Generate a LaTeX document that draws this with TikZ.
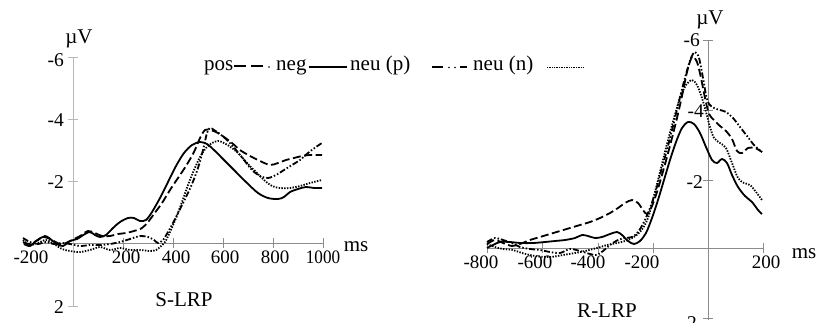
\documentclass[tikz,border=0pt]{standalone}
\usepackage{fontspec}
\setmainfont{Liberation Serif}
\begin{document}
\begin{tikzpicture}[x=1pt,y=-1pt,
  axis/.style={draw=black!45, line width=1pt},
  yaxisL/.style={draw=black!28, line width=1pt},
  curve/.style={line width=1.8pt, smooth, tension=0.5, line join=round},
  posline/.style={curve, dash pattern=on 8pt off 3.5pt},
  negline/.style={curve},
  neupline/.style={curve, dash pattern=on 6pt off 2pt on 1.5pt off 2pt on 1.5pt off 2pt},
  neunline/.style={curve, dash pattern=on 1.4pt off 1.4pt},
  lbl/.style={font=\fontsize{21}{24}\selectfont, inner sep=0pt},
  num/.style={font=\fontsize{19}{22}\selectfont, inner sep=0pt},
  ynum/.style={font=\fontsize{19.5}{22}\selectfont, inner sep=0pt, anchor=east},
]
\useasboundingbox (0,0) rectangle (817,322);

% ================= LEFT PANEL (S-LRP) =================
\coordinate (LyT) at (73,57);
\coordinate (LyB) at (73,306);
\coordinate (LxL) at (23,243);
\coordinate (LxR) at (323,243);
\draw[yaxisL] (LyT) -- (LyB);
\draw[axis] (LxL) -- (LxR);
\foreach \y in {57,119,181,306} \draw[yaxisL] (68,\y) -- (78,\y);
\foreach \x in {123,173,223,273,323} \draw[axis] (\x,238) -- (\x,248);
\node[ynum] (Ln6) at (64,60) {-6};
\node[ynum] (Ln4) at (64,120) {-4};
\node[ynum] (Ln2) at (64,182) {-2};
\node[ynum] (Lp2) at (64,307) {2};
\node[num,anchor=north] (Lxm200) at (31,251) {-200};
\node[num,anchor=north] (Lx200) at (126,251) {200};
\node[num,anchor=north] (Lx400) at (176,251) {400};
\node[num,anchor=north] (Lx600) at (225,251) {600};
\node[num,anchor=north] (Lx800) at (275,251) {800};
\node[num,anchor=north,xscale=0.9] (Lx1000) at (323,251) {1000};
\node[lbl] (LuV) at (79,39) {µV};
\node[lbl] (Lms) at (356,247) {ms};
\node[lbl] (Ltitle) at (184,300) {S-LRP};

% curves
\draw[negline] plot coordinates {(24,244) (30,246) (36,241) (43,237) (50,239) (57,244) (63,246) (70,241) (77,239) (85,234) (90,232) (95,235) (100,237) (106,235) (113,228) (120,222) (128,218) (134,218) (140,221) (146,220) (152,212) (160,198) (168,182) (176,166) (184,153) (192,145) (200,142) (207,144) (214,150) (224,160) (234,170) (246,182) (258,193) (268,198) (278,199) (284,197) (290,192) (298,189) (306,187) (314,188) (322,188)};
\draw[posline] plot coordinates {(23,242) (30,244) (38,240) (45,236) (52,240) (60,244) (66,243) (72,240) (80,236) (88,231) (95,233) (102,236) (110,236) (118,234) (126,233) (134,231) (142,228) (148,222) (154,214) (162,203) (170,190) (178,178) (186,166) (194,152) (200,138) (205,130) (210,130) (216,132) (224,137) (232,143) (240,150) (250,156) (260,161) (270,165) (278,163) (286,160) (294,158) (302,156) (310,155) (322,155)};
\draw[neupline] plot coordinates {(23,238) (30,242) (38,244) (46,242) (54,244) (62,243) (70,244) (80,246) (90,245) (100,245) (110,244) (120,242) (130,239) (140,236) (148,237) (154,240) (158,243) (163,240) (168,232) (174,221) (180,209) (186,197) (192,184) (198,168) (203,150) (207,133) (210,128) (214,130) (220,134) (228,141) (236,150) (244,160) (252,170) (260,176) (268,178) (276,175) (284,170) (292,165) (300,160) (308,153) (316,147) (322,143)};
\draw[neunline] plot coordinates {(23,240) (30,245) (38,243) (46,240) (54,244) (62,249) (70,251) (80,252) (90,250) (100,247) (110,250) (120,248) (130,250) (140,250) (150,251) (156,250) (160,247) (165,242) (170,232) (176,218) (182,202) (188,185) (194,170) (200,157) (206,148) (212,143) (218,141) (224,143) (232,148) (240,155) (248,164) (256,172) (264,180) (272,186) (280,188) (290,188) (300,186) (310,183) (322,180)};

% ================= RIGHT PANEL (R-LRP) =================
\coordinate (RyT) at (708,40);
\coordinate (RyB) at (708,320);
\coordinate (RxL) at (487,248);
\coordinate (RxR) at (763,248);
\draw[axis] (RyT) -- (RyB);
\draw[axis] (RxL) -- (RxR);
\foreach \y in {40,110,180,318} \draw[axis] (703,\y) -- (713,\y);
\foreach \x in {487,542,598,653,763} \draw[axis] (\x,243) -- (\x,253);
\node[ynum] (Rn6) at (700,40) {-6};
\node[ynum] (Rn4) at (704,111) {-4};
\node[ynum] (Rn2) at (703,182) {-2};
\node[ynum] (Rp2) at (697,323) {2};
\node[num,anchor=north] (Rxm800) at (481,256) {-800};
\node[num,anchor=north] (Rxm600) at (535,256) {-600};
\node[num,anchor=north] (Rxm400) at (588,256) {-400};
\node[num,anchor=north] (Rxm200) at (642,256) {-200};
\node[num,anchor=north] (Rx200) at (766,256) {200};
\node[lbl] (RuV) at (710,20) {µV};
\node[lbl] (Rms) at (804,254) {ms};
\node[lbl] (Rtitle) at (607,311) {R-LRP};

\draw[negline] plot coordinates {(487,248) (493,245) (500,242) (510,242) (520,243) (533,243) (545,242) (555,241) (565,240) (575,238) (582,235) (588,236) (595,238) (602,237) (610,234) (617,232) (622,235) (628,241) (634,244) (640,241) (646,233) (652,218) (658,200) (664,180) (670,160) (676,142) (682,128) (688,122) (694,124) (700,133) (706,147) (712,160) (717,163) (722,159) (727,163) (732,175) (738,187) (745,196) (752,202) (758,210) (762,214)};
\draw[posline] plot coordinates {(487,244) (495,240) (503,243) (512,246) (520,244) (530,240) (540,237) (550,234) (560,231) (570,228) (580,225) (590,222) (600,218) (610,213) (618,208) (625,203) (632,200) (638,203) (643,210) (647,214) (652,206) (657,192) (662,175) (667,157) (672,138) (677,118) (682,96) (687,72) (692,57) (697,62) (701,78) (705,98) (709,114) (714,120) (720,126) (726,131) (732,139) (737,151) (742,153) (748,148) (755,148) (762,152)};
\draw[neupline] plot coordinates {(487,242) (495,238) (503,240) (512,243) (520,247) (530,249) (540,250) (550,252) (560,253) (570,249) (580,251) (590,254) (597,255) (603,251) (610,245) (618,240) (625,238) (632,237) (638,232) (644,222) (650,208) (656,190) (662,168) (668,146) (674,122) (680,97) (686,74) (691,58) (695,52) (699,58) (703,78) (706,95) (709,104) (714,108) (720,110) (726,112) (733,118) (740,127) (747,136) (754,145) (762,152)};
\draw[neunline] plot coordinates {(487,244) (495,247) (503,249) (513,250) (522,253) (535,256) (550,257) (563,255) (575,253) (585,251) (597,248) (607,245) (617,243) (625,241) (632,238) (638,234) (643,228) (648,218) (653,200) (658,180) (663,160) (668,140) (674,118) (680,98) (686,85) (692,80) (697,85) (702,98) (706,112) (710,127) (714,138) (720,143) (726,148) (732,163) (738,178) (744,183) (750,185) (756,192) (762,200)};

% ================= LEGEND =================
\node[lbl,anchor=base west] (Gpos) at (204,70) {pos};
\coordinate (Gpa) at (234,66); \coordinate (Gpb) at (246,66);
\coordinate (Gpc) at (251,66); \coordinate (Gpd) at (263,66);
\draw[line width=1.6pt] (Gpa) -- (Gpb) (Gpc) -- (Gpd);
\fill (269,67) circle (0.9pt);
\node[lbl,anchor=base west] (Gneg) at (276,70) {neg};
\coordinate (Gna) at (309,67); \coordinate (Gnb) at (347,67);
\draw[line width=1.3pt] (Gna) -- (Gnb);
\node[lbl,anchor=base west] (Gneup) at (350,70) {neu (p)};
\coordinate (Gua) at (432,67); \coordinate (Gub) at (443,67);
\coordinate (Guc) at (460,67); \coordinate (Gud) at (467,67);
\draw[line width=1.6pt] (Gua) -- (Gub) (Guc) -- (Gud);
\fill (449,67.5) circle (0.9pt) (455,67.5) circle (0.9pt);
\node[lbl,anchor=base west] (Gneun) at (473,70) {neu (n)};
\coordinate (Gda) at (547,67); \coordinate (Gdb) at (583,67);
\draw[line width=0.8pt, dash pattern=on 0.8pt off 0.9pt] (Gda) -- (Gdb);
\end{tikzpicture}
\end{document}
